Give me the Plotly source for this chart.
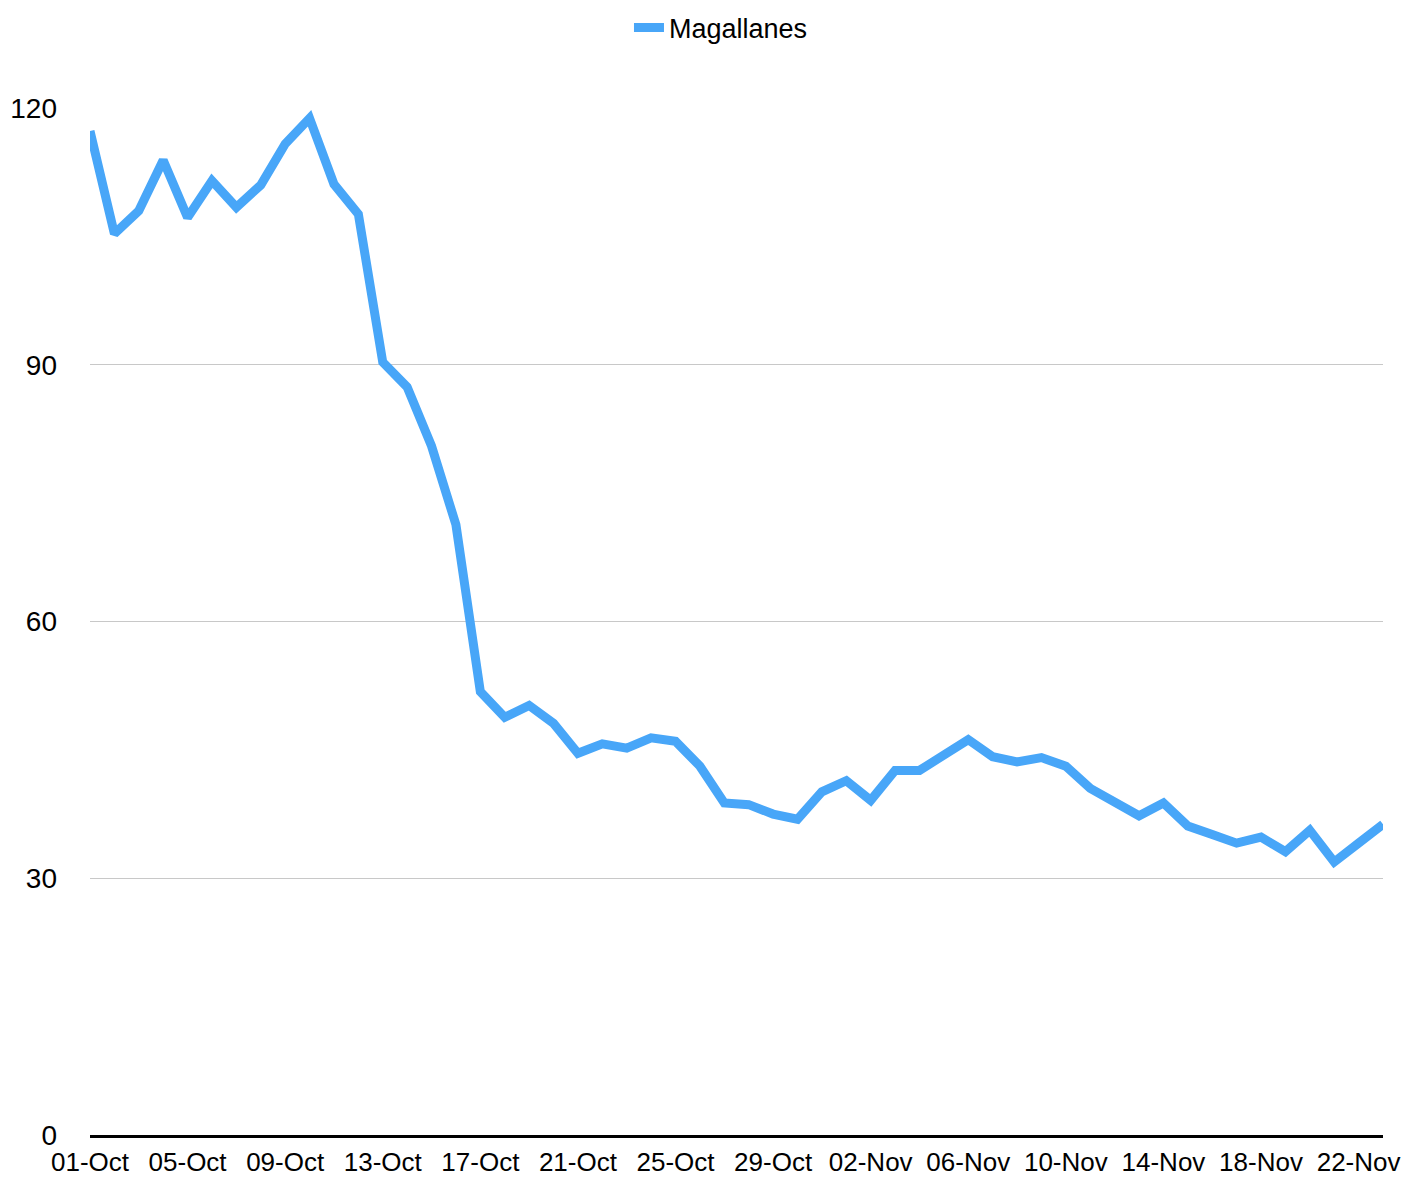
import plotly.graph_objects as go
import datetime as dt

start = dt.date(2020, 10, 1)
dates = [(start + dt.timedelta(days=i)).strftime("%d-%b") for i in range(54)]

values = [117.3, 105.3, 108.0, 113.9, 107.2, 111.5, 108.4, 111.0, 115.8, 118.8,
          111.1, 107.6, 90.3, 87.4, 80.5, 71.3, 51.8, 48.8, 50.2, 48.1,
          44.6, 45.7, 45.2, 46.4, 46.0, 43.1, 38.8, 38.6, 37.5, 36.9,
          40.1, 41.4, 39.1, 42.6, 42.6, 44.4, 46.2, 44.2, 43.6, 44.1,
          43.1, 40.5, 38.9, 37.3, 38.8, 36.1, 35.1, 34.1, 34.8, 33.1,
          35.6, 31.9, 34.1, 36.3]

tick_labels = dates[::4]
y_ticks = [0, 30, 60, 90, 120]

font = "Liberation Sans, Arial, Helvetica, sans-serif"

fig = go.Figure()
fig.add_trace(go.Scatter(
    x=dates, y=values, mode="lines", name="Magallanes",
    line=dict(color="#48a6f8", width=9),
))

fig.update_layout(
    width=1404, height=1171,
    paper_bgcolor="white", plot_bgcolor="white",
    margin=dict(l=82, r=29, t=100, b=44, autoexpand=False),
    font=dict(family=font, size=28, color="black"),
    showlegend=True,
    legend=dict(orientation="h", x=0.488, xanchor="center", y=1.078, yanchor="middle",
                font=dict(size=27), itemwidth=30),
    xaxis=dict(
        type="category", categoryorder="array", categoryarray=dates,
        range=[0, len(dates) - 1], automargin=False,
        tickvals=tick_labels, ticktext=tick_labels,
        showgrid=False, showline=True, linecolor="black", linewidth=3,
        ticks="", ticklabelstandoff=2, tickangle=0,
        tickfont=dict(size=26),
    ),
    yaxis=dict(
        range=[0, 120], tickvals=y_ticks, ticktext=[str(v) for v in y_ticks],
        showgrid=True, gridcolor="#c8c8c8", gridwidth=1, automargin=False,
        zeroline=False, showline=False, ticks="",
        ticklabelstandoff=32, tickfont=dict(size=28),
    ),
)

fig.write_html("out.html")
